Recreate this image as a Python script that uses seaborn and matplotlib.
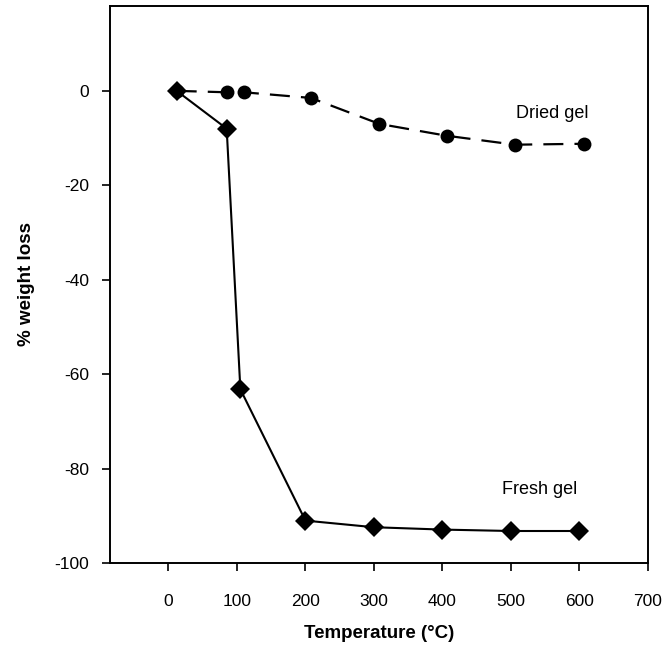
import matplotlib
matplotlib.use("Agg")
import matplotlib.pyplot as plt
import seaborn as sns
import pandas as pd

# Thermogravimetric weight loss of the gels
fresh_temp = [12, 85, 105, 200, 300, 400, 500, 600]
fresh_loss = [0.0, -8.0, -63.2, -91.0, -92.4, -92.9, -93.2, -93.2]

dried_temp = [12, 85, 110, 208, 308, 406, 506, 607]
dried_loss = [0.0, -0.3, -0.3, -1.5, -7.0, -9.5, -11.4, -11.2]

x_ticks = [0, 100, 200, 300, 400, 500, 600, 700]
y_ticks = [-100, -80, -60, -40, -20, 0]

sns.set_theme(style="white")
plt.rcParams["font.family"] = ["Liberation Sans", "DejaVu Sans"]

fresh = pd.DataFrame({"temp": fresh_temp, "loss": fresh_loss})
dried = pd.DataFrame({"temp": dried_temp, "loss": dried_loss})

fig = plt.figure(figsize=(6.68, 6.51), dpi=100)
ax = fig.add_axes([0.165, 0.135, 0.805, 0.856])

sns.lineplot(data=fresh, x="temp", y="loss", ax=ax, color="black",
             linewidth=1.5, marker="D", markersize=10, markeredgewidth=0,
             sort=False)
sns.lineplot(data=dried, x="temp", y="loss", ax=ax, color="black",
             linewidth=1.6, marker="o", markersize=10, markeredgewidth=0,
             sort=False, dashes=False)
ax.lines[-1].set_dashes([9, 5])

ax.set_xlim(-85, 700)
ax.set_ylim(-100, 18)
ax.set_xticks(x_ticks)
ax.set_yticks(y_ticks)
ax.set_xticklabels([str(v) for v in x_ticks])
ax.set_yticklabels([str(v) for v in y_ticks])

ax.tick_params(axis="x", direction="out", length=6, width=1.2, pad=16,
               labelsize=12.5, bottom=True, top=False, colors="black")
ax.tick_params(axis="y", direction="out", length=6, width=1.2, pad=9,
               labelsize=12.5, left=True, right=False, colors="black")

for side in ["left", "right", "top", "bottom"]:
    ax.spines[side].set_visible(True)
    ax.spines[side].set_color("black")
    ax.spines[side].set_linewidth(1.4)

ax.set_xlabel("Temperature (°C)", fontsize=13.5, fontweight="bold",
              labelpad=12, color="black")
ax.set_ylabel("% weight loss", fontsize=13.5, fontweight="bold",
              labelpad=14, color="black")

ax.text(560, -4.8, "Dried gel", fontsize=13, ha="center", va="center",
        color="black")
ax.text(542, -84.5, "Fresh gel", fontsize=13, ha="center", va="center",
        color="black")

fig.savefig("out.png", dpi=100, facecolor="white")
